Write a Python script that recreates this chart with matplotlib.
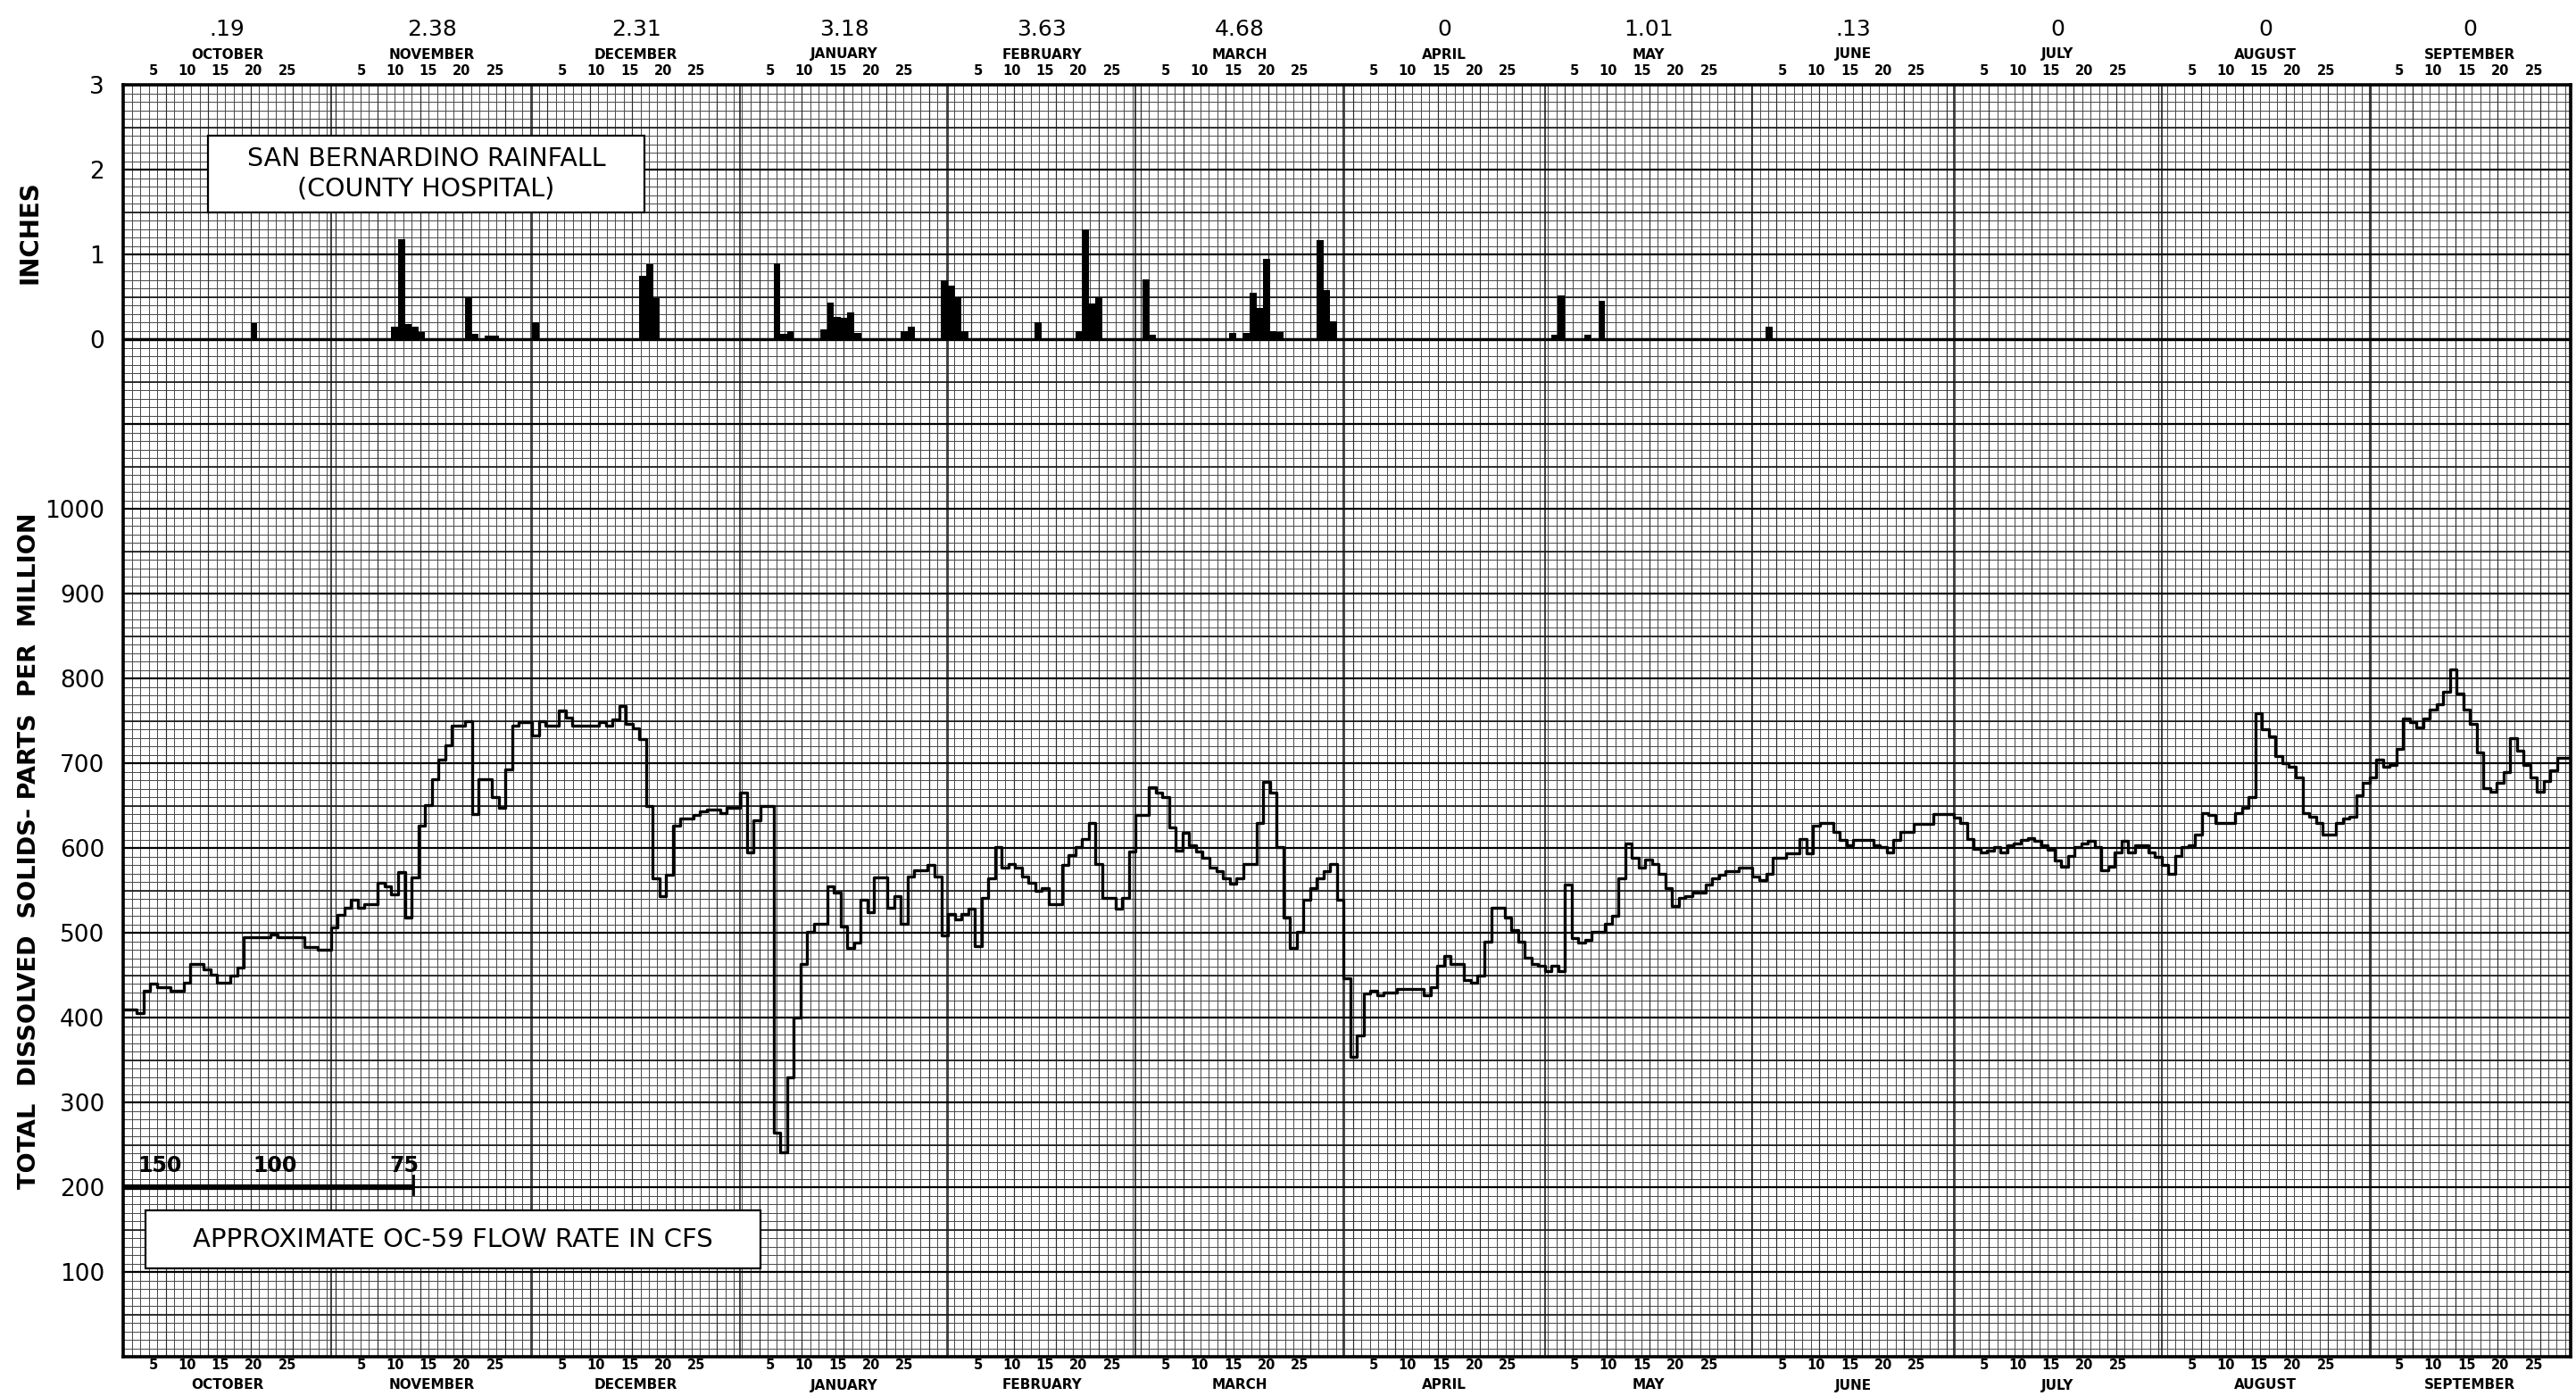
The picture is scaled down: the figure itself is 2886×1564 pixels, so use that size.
import numpy as np
import matplotlib
matplotlib.use("Agg")
import matplotlib.pyplot as plt
from matplotlib import transforms
from matplotlib.patches import Rectangle

# water year, October through September (day 0 = October 1)
months = ["OCTOBER", "NOVEMBER", "DECEMBER", "JANUARY", "FEBRUARY", "MARCH",
          "APRIL", "MAY", "JUNE", "JULY", "AUGUST", "SEPTEMBER"]
month_days = [31, 30, 31, 31, 28, 31, 30, 31, 30, 31, 31, 30]
month_rain_total = [".19", "2.38", "2.31", "3.18", "3.63", "4.68",
                    "0", "1.01", ".13", "0", "0", "0"]

# San Bernardino daily rainfall, inches
rain_day = [19, 40, 41, 42, 43, 44, 51, 52, 54, 55,
            61, 77, 78, 79,
            97, 98, 99, 104, 105, 106, 107, 108, 109, 116, 117, 122,
            123, 124, 125, 136, 142, 143, 144, 145,
            152, 153, 165, 167, 168, 169, 170, 171, 172, 178, 179, 180,
            213, 214, 218, 220, 245]
rain_in = [0.19, 0.15, 1.18, 0.18, 0.15, 0.08, 0.50, 0.06, 0.04, 0.04,
           0.20, 0.75, 0.88, 0.48,
           0.90, 0.06, 0.10, 0.12, 0.43, 0.26, 0.25, 0.32, 0.07, 0.10, 0.15, 0.69,
           0.63, 0.50, 0.10, 0.20, 0.10, 1.30, 0.42, 0.49,
           0.71, 0.05, 0.07, 0.07, 0.55, 0.37, 0.95, 0.10, 0.08, 1.17, 0.58, 0.21,
           0.05, 0.52, 0.05, 0.45, 0.15]

# total dissolved solids, ppm: (day the value starts, value)
tds_oct_dec = [(0, 410), (2, 405), (3, 432), (4, 440), (5, 436), (7, 432), (9, 441), (10, 463),
               (12, 457), (13, 451), (14, 441), (16, 449), (17, 459), (18, 495), (22, 498),
               (23, 495), (27, 483), (29, 480), (31, 506), (32, 521), (33, 530), (34, 539),
               (35, 530), (36, 534), (38, 559), (39, 555), (40, 545), (41, 572), (42, 518),
               (43, 565), (44, 626), (45, 651), (46, 681), (47, 704), (48, 721), (49, 744),
               (51, 750), (52, 640), (53, 681), (55, 660), (56, 647), (57, 693), (58, 744),
               (59, 748), (61, 733), (62, 750), (63, 744), (65, 762), (66, 754), (67, 744),
               (71, 748), (72, 744), (73, 752), (74, 767), (75, 746), (76, 741), (77, 728),
               (78, 649), (79, 564), (80, 543), (81, 568), (82, 626), (83, 635), (85, 639),
               (86, 643), (87, 645), (89, 641), (90, 647)]
tds_jan_mar = [(92, 665), (93, 595), (94, 633), (95, 649), (97, 264), (98, 241), (99, 329),
               (100, 400), (101, 463), (102, 501), (103, 511), (105, 555), (106, 547),
               (107, 507), (108, 482), (109, 488), (110, 539), (111, 524), (112, 565),
               (114, 530), (115, 543), (116, 511), (117, 566), (118, 574), (120, 580),
               (121, 566), (122, 497), (123, 522), (124, 516), (125, 522), (126, 528),
               (127, 484), (128, 541), (129, 564), (130, 601), (131, 577), (132, 581),
               (133, 577), (134, 566), (135, 559), (136, 549), (137, 553), (138, 534),
               (140, 580), (141, 592), (142, 601), (143, 611), (144, 629), (145, 581),
               (146, 541), (148, 528), (149, 541), (150, 596), (151, 639), (153, 672),
               (154, 665), (155, 660), (156, 624), (157, 597), (158, 618), (159, 603),
               (160, 596), (161, 588), (162, 577), (163, 573), (164, 564), (165, 558),
               (166, 564), (167, 581), (169, 629), (170, 678), (171, 665), (172, 601),
               (173, 518), (174, 482), (175, 501), (176, 539), (177, 553), (178, 564),
               (179, 573), (180, 581), (181, 539)]
tds_apr_jun = [(182, 446), (183, 354), (184, 379), (185, 428), (186, 432), (187, 426),
               (188, 430), (190, 434), (194, 426), (195, 436), (196, 461), (197, 473),
               (198, 463), (200, 444), (201, 441), (202, 449), (203, 490), (204, 530),
               (206, 518), (207, 503), (208, 490), (209, 471), (210, 463), (211, 461),
               (212, 455), (213, 461), (214, 455), (215, 557), (216, 494), (217, 488),
               (218, 492), (219, 501), (221, 511), (222, 520), (223, 564), (224, 605),
               (225, 588), (226, 577), (227, 586), (228, 581), (229, 570), (230, 553),
               (231, 532), (232, 541), (233, 543), (234, 547), (236, 557), (237, 564),
               (238, 568), (239, 573), (241, 577), (243, 566), (244, 562), (245, 570),
               (246, 588), (248, 594), (250, 611), (251, 594), (252, 626), (253, 630),
               (255, 619), (256, 609), (257, 603), (258, 609), (261, 603), (262, 601),
               (263, 595), (264, 609), (265, 619), (267, 628), (270, 640)]
tds_jul_sep = [(273, 636), (274, 630), (275, 611), (276, 599), (277, 595), (278, 597),
               (279, 601), (280, 595), (281, 603), (282, 605), (283, 610), (284, 612),
               (285, 608), (286, 603), (287, 598), (288, 585), (289, 578), (290, 591),
               (291, 601), (292, 605), (293, 608), (294, 601), (295, 574), (296, 578),
               (297, 595), (298, 608), (299, 595), (300, 603), (302, 595), (303, 589),
               (304, 580), (305, 570), (306, 591), (307, 601), (308, 603), (309, 616),
               (310, 641), (311, 639), (312, 629), (315, 641), (316, 647), (317, 660),
               (318, 759), (319, 740), (320, 732), (321, 708), (322, 700), (323, 696),
               (324, 683), (325, 641), (326, 637), (327, 629), (328, 616), (330, 629),
               (331, 635), (332, 637), (333, 662), (334, 677), (335, 683), (336, 704),
               (337, 696), (338, 698), (339, 717), (340, 753), (341, 748), (342, 742),
               (343, 753), (344, 763), (345, 769), (346, 784), (347, 811), (348, 782),
               (349, 763), (350, 746), (351, 713), (352, 671), (353, 666), (354, 677),
               (355, 689), (356, 729), (357, 715), (358, 698), (359, 683), (360, 666),
               (361, 679), (362, 692), (363, 706)]

# approximate OC-59 flow rate scale drawn on the 200 ppm line
flow_day = [5.5, 22.7, 41.9]
flow_cfs = ["150", "100", "75"]
flow_end_day = 43.3

ppm_ticks = [100, 200, 300, 400, 500, 600, 700, 800, 900, 1000]
inch_ticks = [0, 1, 2, 3]
RAIN_ZERO = 1200   # rain panel shares the paper: 0 in at 1200, 100 per inch
RAIN_SCALE = 100

W_PX, H_PX = 2886, 1564
fig = plt.figure(figsize=(W_PX / 100, H_PX / 100), dpi=100)
L, R, T, B = 138, 2880, 95, 1520
ax = fig.add_axes([L / W_PX, 1 - B / H_PX, (R - L) / W_PX, (B - T) / H_PX])
ax.set_xlim(0, 365)
ax.set_ylim(0, 1500)

start = np.concatenate([[0], np.cumsum(month_days)[:-1]])

# graph paper, square cells of 10 ppm; slightly heavier rules at month boundaries
cell = 10 * ((B - T) / 1500) / ((R - L) / 365)
xs = np.arange(0, 365 + 1e-6, cell)
ys = np.arange(0, 1500 + 1e-6, 10)
k = np.arange(len(xs))
ax.vlines(xs, 0, 1500, color="#474747", lw=0.7, zorder=0.5)
ax.vlines(xs[k % 5 == 0], 0, 1500, color="#2a2a2a", lw=0.85, zorder=0.6)
ax.vlines(start[1:], 0, 1500, color="#151515", lw=1.15, zorder=0.7)
ax.hlines(ys, 0, 365, color="#474747", lw=0.7, zorder=0.5)
ax.hlines(ys[ys % 50 == 0], 0, 365, color="#1a1a1a", lw=1.2, zorder=0.6)
ax.hlines(ys[ys % 100 == 0], 0, 365, color="black", lw=1.6, zorder=0.7)
ax.axhline(RAIN_ZERO, color="black", lw=2.4, zorder=2)

# rainfall bars
ax.bar(np.array(rain_day) + 0.5, np.array(rain_in) * RAIN_SCALE, bottom=RAIN_ZERO,
       width=1.05, color="black", zorder=3)

# TDS step trace
steps = tds_oct_dec + tds_jan_mar + tds_apr_jun + tds_jul_sep
tds_day = np.array([d for d, _ in steps] + [365])
tds_ppm = np.array([v for _, v in steps] + [steps[-1][1]])
ax.step(tds_day, tds_ppm, where="post", color="black", lw=2.4, zorder=3)

# flow rate scale
ax.plot([0, flow_end_day], [200, 200], color="black", lw=4.5, solid_capstyle="butt", zorder=3)
ax.plot([flow_end_day, flow_end_day], [192, 214], color="black", lw=2, zorder=3)
for d, lab in zip(flow_day, flow_cfs):
    ax.text(d, 213, lab, ha="center", va="bottom", fontsize=17, fontweight="bold", zorder=5)

# labelled boxes
ax.add_patch(Rectangle((12.7, 1350), 65, 90, facecolor="white", edgecolor="black", lw=1.6, zorder=4))
ax.text(45.2, 1395, "SAN BERNARDINO RAINFALL\n(COUNTY HOSPITAL)", ha="center", va="center",
        fontsize=20.5, linespacing=1.25, zorder=5)
ax.add_patch(Rectangle((3.3, 104), 91.8, 69, facecolor="white", edgecolor="black", lw=1.6, zorder=4))
ax.text(49.2, 138, "APPROXIMATE OC-59 FLOW RATE IN CFS", ha="center", va="center",
        fontsize=21, zorder=5)

# axes frame and y labels
for s in ax.spines.values():
    s.set_linewidth(2.6)
ax.set_xticks([])
ax.set_yticks(ppm_ticks + [RAIN_ZERO + RAIN_SCALE * v for v in inch_ticks])
ax.set_yticklabels([str(v) for v in ppm_ticks] + [str(v) for v in inch_ticks], fontsize=19)
ax.tick_params(axis="y", length=0, pad=15)

fig.text(0.0115, 1 - 260 / H_PX, "INCHES", rotation=90, ha="center", va="center",
         fontsize=20, fontweight="bold")
fig.text(0.0115, 1 - 953 / H_PX, "TOTAL  DISSOLVED  SOLIDS- PARTS  PER  MILLION", rotation=90,
         ha="center", va="center", fontsize=19.5, fontweight="bold")

# month, day and rainfall total labels above and below
trans = transforms.blended_transform_factory(ax.transData, fig.transFigure)
for s, n, name, tot in zip(start, month_days, months, month_rain_total):
    mid = s + n / 2
    ax.text(mid, 1 - 33 / H_PX, tot, transform=trans, ha="center", va="center", fontsize=18)
    ax.text(mid, 1 - 61 / H_PX, name, transform=trans, ha="center", va="center",
            fontsize=11, fontweight="bold")
    ax.text(mid, 1 - 1552 / H_PX, name, transform=trans, ha="center", va="center",
            fontsize=11, fontweight="bold")
    for d in [5, 10, 15, 20, 25]:
        ax.text(s + d - 0.5, 1 - 80 / H_PX, str(d), transform=trans, ha="center", va="center",
                fontsize=10.5, fontweight="bold")
        ax.text(s + d - 0.5, 1 - 1530 / H_PX, str(d), transform=trans, ha="center", va="center",
                fontsize=10.5, fontweight="bold")

fig.savefig("out.png", dpi=100, facecolor="white")
